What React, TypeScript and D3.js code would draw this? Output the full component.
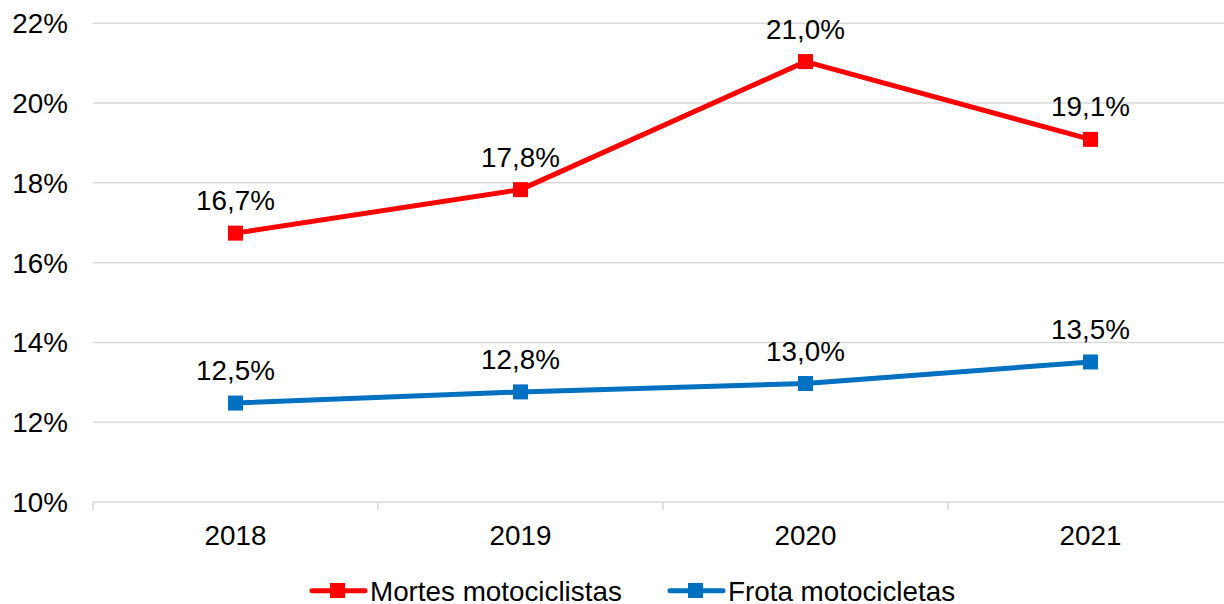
import React from "react";
import * as d3 from "d3";

const years = ["2018", "2019", "2020", "2021"];
const mortes = [16.74, 17.83, 21.04, 19.09];
const frota = [12.48, 12.76, 12.97, 13.51];
const yTicks = [10, 12, 14, 16, 18, 20, 22];
const seriesNames = ["Mortes motociclistas", "Frota motocicletas"];
const colors = ["#FF0000", "#0070C0"];

const W = 1224;
const H = 604;
const FONT = "'Liberation Sans', Arial, sans-serif";
const FS = 27.8;

export default function App() {
  const x = d3.scaleBand<string>().domain(years).range([93, 1233]);
  const y = d3.scaleLinear().domain([10, 22]).range([502, 23.3]);
  const line = d3
    .line<number>()
    .x((_, i) => x(years[i])! + x.bandwidth() / 2)
    .y((d) => y(d));
  const fmt = (v: number) => v.toFixed(1).replace(".", ",") + "%";
  const series = [mortes, frota];
  const boundaries = years.map((yr) => x(yr)!).concat([x(years[3])! + x.bandwidth()]);
  const legendItems = [{ x0: 310 }, { x0: 668 }];

  return (
    <svg
      width={W}
      height={H}
      style={{ position: "absolute", left: 0, top: 0, overflow: "hidden", background: "#fff" }}
      fontFamily={FONT}
    >
      {yTicks.map((t) => (
        <g key={t}>
          <line x1={93} x2={1233} y1={y(t)} y2={y(t)} stroke="#D9D9D9" strokeWidth={1.5} />
          <text x={68} y={y(t) + 10} textAnchor="end" fontSize={FS} fill="#000">
            {t}%
          </text>
        </g>
      ))}
      {boundaries.map((b, i) => (
        <line key={i} x1={b} x2={b} y1={502} y2={510} stroke="#D9D9D9" strokeWidth={1.5} />
      ))}
      {years.map((yr) => (
        <text key={yr} x={x(yr)! + x.bandwidth() / 2} y={545} textAnchor="middle" fontSize={FS} fill="#000">
          {yr}
        </text>
      ))}
      {series.map((s, si) => (
        <g key={si}>
          <path d={line(s)!} fill="none" stroke={colors[si]} strokeWidth={5} strokeLinejoin="round" />
          {s.map((v, i) => {
            const cx = x(years[i])! + x.bandwidth() / 2;
            return (
              <g key={i}>
                <rect x={cx - 7.5} y={y(v) - 7.5} width={15} height={15} fill={colors[si]} />
                <text x={cx} y={y(v) - 23} textAnchor="middle" fontSize={FS} fill="#000">
                  {fmt(v)}
                </text>
              </g>
            );
          })}
        </g>
      ))}
      {seriesNames.map((n, i) => {
        const l = legendItems[i];
        return (
          <g key={n}>
            <line x1={l.x0 + 2} x2={l.x0 + 55} y1={590.7} y2={590.7} stroke={colors[i]} strokeWidth={5} strokeLinecap="round" />
            <rect x={l.x0 + 20} y={583} width={15} height={15} fill={colors[i]} />
            <text x={l.x0 + 60} y={600.5} fontSize={FS} fill="#000">
              {n}
            </text>
          </g>
        );
      })}
    </svg>
  );
}
